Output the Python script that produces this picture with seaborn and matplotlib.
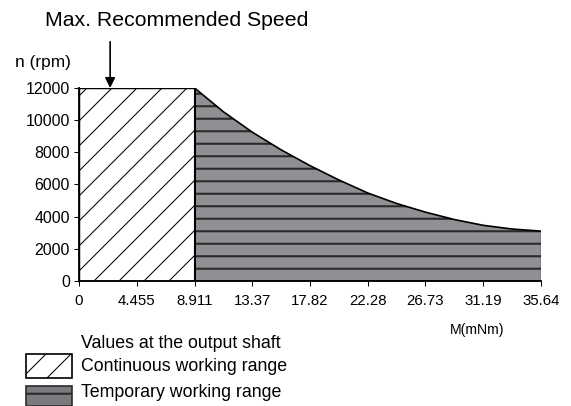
import matplotlib
matplotlib.use("Agg")
import matplotlib.pyplot as plt
from matplotlib.patches import Rectangle
import pandas as pd
import seaborn as sns

# Torque axis ticks (mNm) and labels
torque_ticks = [0, 4.455, 8.911, 13.37, 17.82, 22.28, 26.73, 31.19, 35.64]
torque_labels = ["0", "4.455", "8.911", "13.37", "17.82", "22.28", "26.73", "31.19", "35.64"]
speed_ticks = [0, 2000, 4000, 6000, 8000, 10000, 12000]

# Continuous working range: up to rated torque at max recommended speed
continuous_torque = [0.0, 8.911]
continuous_speed = [12000, 12000]

# Temporary working range boundary (torque vs. speed)
temporary_torque = [8.911, 11.14, 13.37, 15.6, 17.82, 20.05, 22.28, 24.5, 26.73, 28.96, 31.19, 33.42, 35.64]
temporary_speed = [12000, 10520, 9250, 8150, 7170, 6280, 5470, 4820, 4280, 3820, 3460, 3230, 3100]

max_speed_torque = 2.4

sns.set_theme(style="ticks")
plt.rcParams["font.family"] = ["Liberation Sans", "DejaVu Sans"]
plt.rcParams["axes.linewidth"] = 0.75

DPI = 150
fig = plt.figure(figsize=(571 / DPI, 406 / DPI), dpi=DPI)
ax = fig.add_axes([0.1384, 0.3079, 0.809, 0.4754])

cont = pd.DataFrame({"torque": continuous_torque, "speed": continuous_speed})
temp = pd.DataFrame({"torque": temporary_torque, "speed": temporary_speed})

# Continuous range: white with diagonal hatching
plt.rcParams["hatch.linewidth"] = 0.5
ax.fill_between(cont["torque"], 0, cont["speed"], facecolor="white",
                edgecolor="black", hatch="//", linewidth=0.7, zorder=2)

# Temporary range: grey with horizontal stripes
plt.rcParams["hatch.linewidth"] = 1.0
ax.fill_between(temp["torque"], 0, temp["speed"], facecolor="#8f9094",
                edgecolor="#2a2a2a", hatch="--", linewidth=0.0, zorder=2)
sns.lineplot(data=temp, x="torque", y="speed", color="black", linewidth=0.8,
             ax=ax, zorder=3)
ax.vlines(temporary_torque[-1], 0, temporary_speed[-1], color="black",
          linewidth=0.6, zorder=3)
ax.vlines(continuous_torque[-1], 0, continuous_speed[-1], color="black",
          linewidth=1.0, zorder=3)

ax.set_xlim(0, torque_ticks[-1])
ax.set_ylim(0, 12000)
ax.set_xticks(torque_ticks)
ax.set_xticklabels(torque_labels)
ax.set_yticks(speed_ticks)
ax.set_xlabel("")
ax.set_ylabel("")
ax.tick_params(axis="both", direction="out", length=2.4, width=0.5,
               colors="black", pad=2)
ax.tick_params(axis="y", labelsize=7.6)
ax.tick_params(axis="x", labelsize=7.2, pad=4)
sns.despine(ax=ax)
for s in ("left", "bottom"):
    ax.spines[s].set_color("black")
    ax.spines[s].set_linewidth(0.9)

# Max recommended speed marker
ax.annotate("", xy=(max_speed_torque, 12000), xytext=(max_speed_torque, 14870),
            annotation_clip=False,
            arrowprops=dict(arrowstyle="-|>", color="black", lw=0.8,
                            mutation_scale=10, shrinkA=0, shrinkB=0))
fig.text(0.079, 0.949, "Max. Recommended Speed", fontsize=10.2,
         ha="left", va="center", color="black")
fig.text(0.0256, 0.845, "n (rpm)", fontsize=8.3, ha="left", va="center", color="black")
fig.text(0.836, 0.187, "M(mNm)", fontsize=6.8, ha="center", va="center", color="black")

# Key
fig.text(0.142, 0.155, "Values at the output shaft", fontsize=8.5,
         ha="left", va="center", color="black")
plt.rcParams["hatch.linewidth"] = 0.5
fig.add_artist(Rectangle((0.0455, 0.069), 0.0806, 0.059, transform=fig.transFigure,
                         facecolor="white", edgecolor="black", hatch="//", linewidth=0.8))
fig.text(0.142, 0.097, "Continuous working range", fontsize=8.5,
         ha="left", va="center", color="black")
plt.rcParams["hatch.linewidth"] = 1.0
fig.add_artist(Rectangle((0.0455, -0.01), 0.0806, 0.059, transform=fig.transFigure,
                         facecolor="#7a7b7f", edgecolor="#2a2a2a", hatch="--", linewidth=0.8))
fig.text(0.142, 0.033, "Temporary working range", fontsize=8.5,
         ha="left", va="center", color="black")

fig.savefig("out.png", dpi=DPI)
